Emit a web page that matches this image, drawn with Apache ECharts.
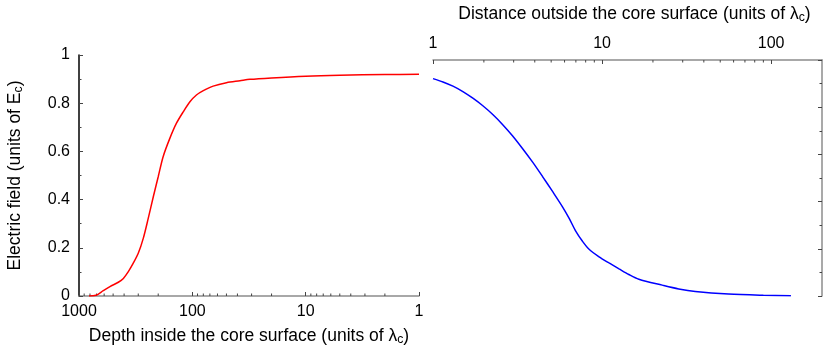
<!DOCTYPE html>
<html>
<head>
<meta charset="utf-8">
<script src="https://cdn.jsdelivr.net/npm/echarts@6/dist/echarts.min.js"></script>
<style>
  html, body { margin: 0; padding: 0; background: #fff; }
  #chart { width: 830px; height: 351px; }
</style>
</head>
<body>
<div id="chart"></div>
<script>
// depth inside the core surface (units of lambda_c) and the field there
const depthIn = [816, 708, 611, 533, 450, 406, 367, 332, 300, 271, 245, 221, 200, 181, 158, 138, 120, 105, 92, 80, 65.5, 50, 38, 31, 20, 10, 5, 2, 1]
const fieldIn = [0, 0.003, 0.022, 0.039, 0.057, 0.073, 0.101, 0.136, 0.177, 0.239, 0.322, 0.412, 0.495, 0.578, 0.654, 0.717, 0.765, 0.806, 0.834, 0.852, 0.871, 0.885, 0.893, 0.899, 0.905, 0.912, 0.916, 0.919, 0.92]
// distance outside the core surface and the field there
const distOut = [1, 1.145, 1.312, 1.502, 1.721, 1.971, 2.257, 2.585, 2.96, 3.391, 3.885, 4.448, 5.094, 5.834, 6.39, 7.0, 7.66, 8.38, 9.6, 11.0, 12.6, 14.4, 16.5, 22.7, 28.4, 35.6, 56, 90, 131]
const fieldOut = [0.921, 0.907, 0.889, 0.866, 0.838, 0.806, 0.769, 0.726, 0.678, 0.624, 0.567, 0.506, 0.443, 0.378, 0.329, 0.274, 0.232, 0.198, 0.166, 0.14, 0.115, 0.091, 0.071, 0.046, 0.03, 0.019, 0.008, 0.003, 0.001]
// minor tick values of the log axes
const minorIn = [2, 3, 4, 5, 6, 7, 8, 9, 20, 30, 40, 50, 60, 70, 80, 90, 200, 300, 400, 500, 600, 700, 800, 900]
const minorOut = [2, 3, 4, 5, 6, 7, 8, 9, 20, 30, 40, 50, 60, 70, 80, 90]

const font = 'Liberation Sans, Arial, sans-serif'
const gray = '#8c8c8c'
const tickCol = '#444'

function nameRich(size) {
  return {
    t: { fontFamily: font, fontSize: size, color: '#000' },
    s: { fontFamily: font, fontSize: size * 0.7, color: '#000', verticalAlign: 'bottom', padding: [8, 0, 0, 0] }
  }
}

function minorTicks(xIdx, yIdx, vals, yv, dir) {
  return {
    type: 'custom',
    xAxisIndex: xIdx,
    yAxisIndex: yIdx,
    silent: true,
    clip: false,
    data: vals.map(v => [v, yv]),
    renderItem: (params, api) => {
      const p = api.coord([api.value(0), api.value(1)])
      return {
        type: 'line',
        shape: { x1: p[0], y1: p[1], x2: p[0], y2: p[1] + dir * 2.5 },
        style: { stroke: tickCol, lineWidth: 1 }
      }
    }
  }
}

const charts = echarts.init(document.getElementById('chart'))
const option = {
  animation: false,
  grid: [
    { left: 79, width: 340, top: 55, bottom: 55 },
    { left: 433, right: 8, top: 55, bottom: 55 }
  ],
  xAxis: [
    {
      gridIndex: 0,
      type: 'log',
      logBase: 10,
      min: 1,
      max: 1000,
      inverse: true,
      position: 'bottom',
      name: '{t|Depth inside the core surface (units of λ}{s|c}{t|)}',
      nameLocation: 'middle',
      nameGap: 30,
      nameTextStyle: { rich: nameRich(17.5) },
      axisLine: { lineStyle: { color: gray, width: 1.5 } },
      axisTick: { inside: true, length: 4, lineStyle: { color: tickCol } },
      axisLabel: { fontFamily: font, fontSize: 16, color: '#000', margin: 8, formatter: v => String(Math.round(v)) },
      splitLine: { show: false }
    },
    {
      gridIndex: 1,
      type: 'log',
      logBase: 10,
      min: 1,
      max: 200,
      position: 'top',
      name: '{t|Distance outside the core surface (units of λ}{s|c}{t|)}',
      nameLocation: 'middle',
      nameGap: 36,
      nameTextStyle: { rich: nameRich(17.5), padding: [0, 0, 0, 14] },
      axisLine: { onZero: false, lineStyle: { color: gray, width: 1.5 } },
      axisTick: { inside: true, length: 4, lineStyle: { color: tickCol } },
      axisLabel: { fontFamily: font, fontSize: 16, color: '#000', margin: 8, showMaxLabel: false, formatter: v => String(Math.round(v)) },
      splitLine: { show: false }
    }
  ],
  yAxis: [
    {
      gridIndex: 0,
      type: 'value',
      min: 0,
      max: 1,
      interval: 0.2,
      name: '{t|Electric field (units of E}{s|c}{t|)}',
      nameLocation: 'middle',
      nameGap: 54,
      nameTextStyle: { rich: nameRich(17.5) },
      axisLine: { show: true, lineStyle: { color: '#000', width: 1.5 } },
      axisTick: { show: true, inside: true, length: 4, lineStyle: { color: tickCol } },
      minorTick: { show: true, splitNumber: 2, length: 2.5, lineStyle: { color: tickCol } },
      axisLabel: { fontFamily: font, fontSize: 16, color: '#000', margin: 9 },
      splitLine: { show: false }
    },
    {
      gridIndex: 1,
      type: 'value',
      min: 0,
      max: 1,
      interval: 0.2,
      position: 'right',
      axisLine: { show: true, lineStyle: { color: gray, width: 1.5 } },
      axisTick: { show: true, inside: true, length: 4, lineStyle: { color: tickCol } },
      minorTick: { show: true, splitNumber: 2, length: 2.5, lineStyle: { color: tickCol } },
      axisLabel: { show: false },
      splitLine: { show: false }
    }
  ],
  series: [
    {
      type: 'line',
      xAxisIndex: 0,
      yAxisIndex: 0,
      showSymbol: false,
      smooth: 0.3,
      lineStyle: { color: '#ff0000', width: 1.5 },
      data: depthIn.map((d, i) => [d, fieldIn[i]])
    },
    {
      type: 'line',
      xAxisIndex: 1,
      yAxisIndex: 1,
      showSymbol: false,
      smooth: 0.3,
      lineStyle: { color: '#0000ff', width: 1.5 },
      data: distOut.map((d, i) => [d, fieldOut[i]])
    },
    minorTicks(0, 0, minorIn, 0, -1),
    minorTicks(1, 1, minorOut, 1, 1)
  ]
}
charts.setOption(option)
</script>
</body>
</html>
